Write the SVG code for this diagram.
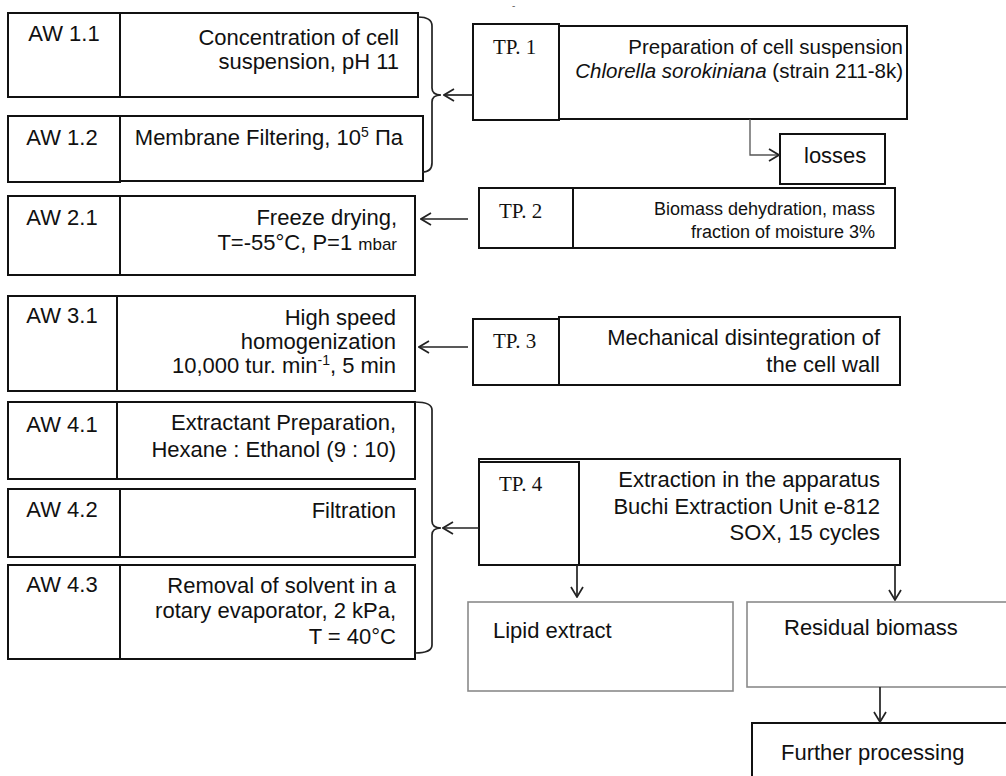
<svg xmlns="http://www.w3.org/2000/svg" width="1006" height="776" viewBox="0 0 1006 776">
<defs>
<style>
.bx{fill:#fff;stroke:#111;stroke-width:2}
.gb{fill:#fff;stroke:#8a8a8a;stroke-width:1.6}
.t{font-family:"Liberation Sans",Arial,sans-serif;font-size:22px;fill:#111}
.s1{font-size:20.5px}
.s2{font-size:18px}
.e{text-anchor:end}
.m{text-anchor:middle}
.tp{font-family:"Liberation Serif","Times New Roman",serif;font-size:21px;fill:#111}
.c{fill:none;stroke:#222;stroke-width:1.7}
.cg{fill:none;stroke:#555;stroke-width:1.3}
</style>
<marker id="ah" viewBox="0 0 12 14" refX="11" refY="7" markerWidth="12" markerHeight="14" markerUnits="userSpaceOnUse" orient="auto">
<path d="M1,1 L11,7 L1,13" fill="none" stroke="#222" stroke-width="1.7"/>
</marker>
</defs>
<rect width="1006" height="776" fill="#fff"/>
<text x="512" y="9" style="font-family:'Liberation Sans',sans-serif;font-size:10px;fill:#666">-</text>

<g id="aw11">
<rect class="bx" x="8" y="13" width="112" height="84"/>
<rect class="bx" x="120" y="13" width="298" height="84"/>
<text class="t m" x="64" y="41">AW 1.1</text>
<text class="t e" x="399" y="45">Concentration of cell</text>
<text class="t e" x="399" y="69">suspension, pH 11</text>
</g>
<g id="aw12">
<rect class="bx" x="8" y="116" width="112" height="66"/>
<rect class="bx" x="120" y="116" width="303" height="65"/>
<text class="t m" x="62" y="145">AW 1.2</text>
<text class="t e" x="403" y="145">Membrane Filtering, 10<tspan font-size="14" dy="-8">5</tspan><tspan dy="8"> Па</tspan></text>
</g>
<g id="aw21">
<rect class="bx" x="8" y="196" width="112" height="79"/>
<rect class="bx" x="120" y="196" width="295" height="79"/>
<text class="t m" x="62" y="225">AW 2.1</text>
<text class="t e" x="397" y="225">Freeze drying,</text>
<text class="t e" x="397" y="250">T=-55°C, P=1 <tspan font-size="17">mbar</tspan></text>
</g>
<g id="aw31">
<rect class="bx" x="8" y="296" width="109" height="95"/>
<rect class="bx" x="117" y="296" width="298" height="95"/>
<text class="t m" x="62" y="323">AW 3.1</text>
<text class="t e" x="396" y="325">High speed</text>
<text class="t e" x="396" y="349">homogenization</text>
<text class="t e" x="396" y="373">10,000 tur. min<tspan font-size="14" dy="-8">-1</tspan><tspan dy="8">, 5 min</tspan></text>
</g>
<g id="aw41">
<rect class="bx" x="8" y="402" width="109" height="77"/>
<rect class="bx" x="117" y="402" width="298" height="77"/>
<text class="t m" x="62" y="432">AW 4.1</text>
<text class="t e" x="396" y="430">Extractant Preparation,</text>
<text class="t e" x="396" y="457">Hexane : Ethanol (9 : 10)</text>
</g>
<g id="aw42">
<rect class="bx" x="8" y="489" width="112" height="68"/>
<rect class="bx" x="120" y="489" width="295" height="68"/>
<text class="t m" x="62" y="517">AW 4.2</text>
<text class="t e" x="396" y="518">Filtration</text>
</g>
<g id="aw43">
<rect class="bx" x="8" y="565" width="112" height="94"/>
<rect class="bx" x="120" y="565" width="295" height="94"/>
<text class="t m" x="62" y="592">AW 4.3</text>
<text class="t e" x="396" y="593">Removal of solvent in a</text>
<text class="t e" x="396" y="618">rotary evaporator, 2 kPa,</text>
<text class="t e" x="396" y="644">T = 40°C</text>
</g>

<g id="tp1">
<rect class="bx" x="473" y="24" width="86" height="96"/>
<rect class="bx" x="559" y="26" width="348" height="93"/>
<text class="tp" x="493" y="54">TP. 1</text>
<text class="t s1 e" x="903" y="54">Preparation of cell suspension</text>
<text class="t s1 e" x="903" y="78"><tspan font-style="italic">Chlorella sorokiniana</tspan> (strain 211-8k)</text>
</g>
<g id="losses">
<rect class="bx" x="780" y="134" width="105" height="50"/>
<text class="t" x="804" y="163">losses</text>
</g>
<g id="tp2">
<rect class="bx" x="479" y="188" width="94" height="60"/>
<rect class="bx" x="573" y="188" width="322" height="60"/>
<text class="tp" x="499" y="218">TP. 2</text>
<text class="t s2 e" x="875" y="215">Biomass dehydration, mass</text>
<text class="t s2 e" x="875" y="238">fraction of moisture 3%</text>
</g>
<g id="tp3">
<rect class="bx" x="559" y="317" width="341" height="68"/>
<rect class="bx" x="473" y="319" width="86" height="66"/>
<text class="tp" x="493" y="348">TP. 3</text>
<text class="t e" x="880" y="345">Mechanical disintegration of</text>
<text class="t e" x="880" y="372">the cell wall</text>
</g>
<g id="tp4">
<rect class="bx" x="479" y="459" width="421" height="106"/>
<rect class="bx" x="479" y="462" width="100" height="103"/>
<text class="tp" x="499" y="491">TP. 4</text>
<text class="t e" x="880" y="487">Extraction in the apparatus</text>
<text class="t e" x="880" y="514">Buchi Extraction Unit e-812</text>
<text class="t e" x="880" y="540">SOX, 15 cycles</text>
</g>
<g id="lipid">
<rect class="gb" x="468" y="602" width="265" height="89"/>
<text class="t" x="493" y="638">Lipid extract</text>
</g>
<g id="residual">
<rect class="gb" x="747" y="602" width="270" height="85"/>
<text class="t" x="784" y="635">Residual biomass</text>
</g>
<g id="further">
<rect class="bx" x="752" y="723" width="270" height="70"/>
<text class="t" x="781" y="760">Further processing</text>
</g>

<g id="connectors">
<path class="c" d="M418,17 Q432,17 432,26 L432,88 Q432,95 441,95 Q432,95 432,102 L432,163 Q432,172 422,172"/>
<path class="c" d="M415,402 Q432,402 432,410 L432,521 Q432,528 441,528 Q432,528 432,535 L432,645 Q432,653 415,653"/>
<line class="c" x1="473" y1="95" x2="444" y2="95" marker-end="url(#ah)"/>
<path class="cg" d="M750,119 L750,155 L779,155" marker-end="url(#ah)"/>
<line class="c" x1="468" y1="219" x2="421" y2="219" marker-end="url(#ah)"/>
<line class="c" x1="468" y1="347" x2="419" y2="347" marker-end="url(#ah)"/>
<line class="c" x1="479" y1="528" x2="443" y2="528" marker-end="url(#ah)"/>
<line class="c" x1="577" y1="565" x2="577" y2="597" marker-end="url(#ah)"/>
<line class="c" x1="895" y1="565" x2="895" y2="600" marker-end="url(#ah)"/>
<line class="c" x1="880" y1="687" x2="880" y2="722" marker-end="url(#ah)"/>
</g>
</svg>
